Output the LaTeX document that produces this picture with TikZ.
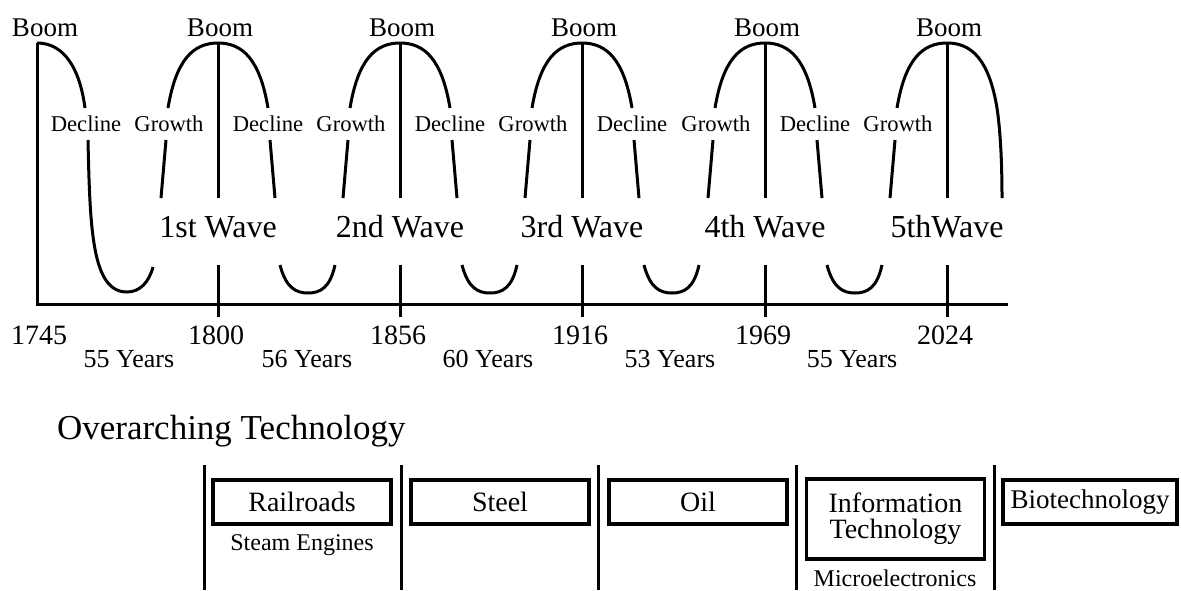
\documentclass[tikz,border=0pt]{standalone}
\usepackage{fontspec}
\setmainfont{Liberation Serif}
\usepackage{tikz}

\begin{document}
\begin{tikzpicture}[x=0.5pt,y=-0.5pt,
  wave/.style={line width=1.5pt},
  boxed/.style={draw,line width=1.8pt,minimum width=89pt,minimum height=22pt,inner sep=0pt,anchor=north,font=\fontsize{14}{15}\selectfont},
  phase/.style={font=\fontsize{11.3}{12}\selectfont},
  yr/.style={font=\fontsize{14}{15}\selectfont}]
  \useasboundingbox (0,0) rectangle (1181,590);
  % frame of the chart
  \draw[wave] (37,43)--(37,304)--(1008,304);
  % falling part before the first wave
  \draw[wave] (37,43) .. controls (65,43) and (80,70) .. (85,108);
  \draw[wave] (88,140) .. controls (90,230) and (92,292) .. (127,292) .. controls (140,292) and (149,282) .. (153,267);
  \node (boom0) at (45,28) {\fontsize{13.5}{14}\selectfont Boom};
  \node[phase] (decl0) at (86,124) {Decline};
  \node[yr] (yr0) at (39,335) {1745};
  % rising half, peak and labels of every wave
  \foreach \c/\w/\y [count=\i] in {218/1st Wave/1800,400/2nd Wave/1856,582/3rd Wave/1916,765/4th Wave/1969,947/5thWave/2024} {
    \draw[wave] (\c-57,198)--(\c-52,140);
    \draw[wave] (\c-50,108) .. controls (\c-42,60) and (\c-25,43) .. (\c,43);
    \draw[wave] (\c,43)--(\c,198) (\c,265)--(\c,317);
    \node (boom\i) at (\c+2,28) {\fontsize{13.5}{14}\selectfont Boom};
    \node[phase] (grow\i) at (\c-49,124) {Growth};
    \node (wave\i) at (\c,227) {\fontsize{16}{17}\selectfont \w};
    \node[yr] (yr\i) at (\c-2,335) {\y};
  }
  % falling half and trough of waves 1--4
  \foreach \c [count=\i] in {218,400,582,765} {
    \draw[wave] (\c,43) .. controls (\c+25,43) and (\c+42,60) .. (\c+50,108);
    \draw[wave] (\c+52,140)--(\c+57,198);
    \draw[wave] (\c+62,265) .. controls (\c+68,288) and (\c+78,293) .. (\c+90,293) .. controls (\c+102,293) and (\c+112,288) .. (\c+117,265);
    \node[phase] (decl\i) at (\c+50,124) {Decline};
  }
  % last wave still falling
  \draw[wave] (947,43) .. controls (972,43) and (989,60) .. (997,108) .. controls (1001,135) and (1002,170) .. (1002,198);
  % spans between the years
  \foreach \x/\n [count=\i] in {129/55,307/56,488/60,670/53,852/55}
    \node (span\i) at (\x,359) {\fontsize{13}{14}\selectfont \n\ Years};

  % technologies
  \node[anchor=base west] (tech) at (50,439) {\fontsize{17.5}{19}\selectfont Overarching Technology};
  \foreach \x in {204,401,598,796,994}
    \draw[wave] (\x,465)--(\x,590);
  \node[boxed] (rail) at (302,478) {Railroads};
  \node[boxed] (steel) at (500,478) {Steel};
  \node[boxed] (oil) at (698,478) {Oil};
  \node[boxed,minimum height=40pt,align=center] (info) at (895.5,477) {Information\\[-2pt]Technology};
  \node[boxed,minimum width=87pt,font=\fontsize{13.5}{14}\selectfont] (bio) at (1090,478) {Biotechnology};
  \node[anchor=base,font=\fontsize{12}{13}\selectfont] (steam) at (302,550) {Steam Engines};
  \node[anchor=base,font=\fontsize{12}{13}\selectfont] (micro) at (895,586) {Microelectronics};
\end{tikzpicture}
\end{document}
